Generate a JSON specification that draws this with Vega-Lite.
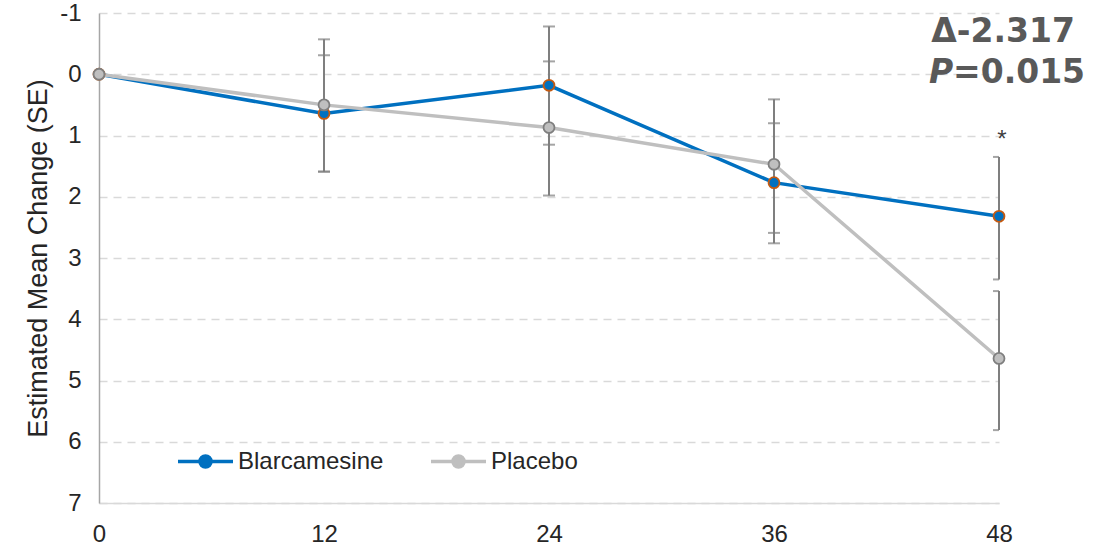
{
  "$schema": "https://vega.github.io/schema/vega-lite/v6.json",
  "autosize": {"type": "none"},
  "padding": {"left": 99, "top": 13, "right": 113, "bottom": 43},
  "width": 900,
  "height": 490,
  "background": "white",
  "config": {
    "view": {"stroke": null},
    "font": "Liberation Sans",
    "axis": {"labelFont": "Liberation Sans", "titleFont": "Liberation Sans", "labelColor": "#262626", "titleColor": "#262626", "ticks": false}
  },
  "data": {
    "values": [
      {"week": 0, "group": "Blarcamesine", "mean": 0, "lo": null, "hi": null},
      {"week": 12, "group": "Blarcamesine", "mean": 0.64, "lo": -0.31, "hi": 1.59},
      {"week": 24, "group": "Blarcamesine", "mean": 0.18, "lo": -0.78, "hi": 1.15},
      {"week": 36, "group": "Blarcamesine", "mean": 1.77, "lo": 0.80, "hi": 2.76},
      {"week": 48, "group": "Blarcamesine", "mean": 2.32, "lo": 1.35, "hi": 3.35},
      {"week": 0, "group": "Placebo", "mean": 0, "lo": null, "hi": null},
      {"week": 12, "group": "Placebo", "mean": 0.50, "lo": -0.57, "hi": 1.59},
      {"week": 24, "group": "Placebo", "mean": 0.87, "lo": -0.21, "hi": 1.98},
      {"week": 36, "group": "Placebo", "mean": 1.47, "lo": 0.41, "hi": 2.59},
      {"week": 48, "group": "Placebo", "mean": 4.64, "lo": 3.54, "hi": 5.81}
    ]
  },
  "encoding": {
    "x": {
      "field": "week", "type": "quantitative",
      "scale": {"domain": [0, 48], "nice": false, "zero": false},
      "axis": {"values": [0, 12, 24, 36, 48], "title": null, "grid": false, "labelFontSize": 24, "labelPadding": 19, "domainColor": "#D9D9D9", "domainWidth": 1.5, "labelFlush": false}
    },
    "y": {
      "field": "mean", "type": "quantitative",
      "scale": {"domain": [-1, 7], "reverse": true, "nice": false, "zero": false},
      "axis": {"values": [-1, 0, 1, 2, 3, 4, 5, 6, 7], "labelExpr": "replace(datum.label, '−', '-')", "title": "Estimated Mean Change (SE)", "titleFontSize": 27, "titleFontWeight": "normal", "titlePadding": 7, "labelFontSize": 24, "labelPadding": 18, "domainColor": "#A6A6A6", "domainWidth": 1.5, "grid": true, "gridColor": "#D9D9D9", "gridDash": [8, 6], "gridWidth": 1.5, "labelFlush": false}
    }
  },
  "layer": [
    {
      "mark": {"type": "rule", "color": "#7F7F7F", "strokeWidth": 2},
      "encoding": {"y": {"field": "lo", "type": "quantitative"}, "y2": {"field": "hi"}}
    },
    {
      "mark": {"type": "tick", "orient": "horizontal", "color": "#7F7F7F", "size": 12, "thickness": 2, "clip": true},
      "encoding": {"y": {"field": "lo", "type": "quantitative"}}
    },
    {
      "mark": {"type": "tick", "orient": "horizontal", "color": "#7F7F7F", "size": 12, "thickness": 2, "clip": true},
      "encoding": {"y": {"field": "hi", "type": "quantitative"}}
    },
    {
      "mark": {"type": "line", "strokeWidth": 3.5},
      "encoding": {
        "color": {
          "field": "group", "type": "nominal",
          "scale": {"domain": ["Blarcamesine", "Placebo"], "range": ["#0070C0", "#BFBFBF"]},
          "legend": {
            "title": null, "orient": "none", "legendX": 77, "legendY": 419, "direction": "horizontal",
            "symbolType": "M-1,0H-0.2M0.2,0H1M0.2,0A0.2,0.2,0,1,1,-0.2,0A0.2,0.2,0,1,1,0.2,0",
            "symbolSize": 3025, "symbolStrokeWidth": 3.5,
            "labelFontSize": 24, "labelFont": "Liberation Sans", "labelColor": "#262626", "labelOffset": 3,
            "columnPadding": 40, "padding": 0,
            "encode": {"symbols": {"update": {"fill": {"scale": "color", "field": "value"}, "stroke": {"scale": "color", "field": "value"}, "strokeWidth": {"value": 3.5}, "opacity": {"value": 1}}}}
          }
        }
      }
    },
    {
      "mark": {"type": "point", "filled": true, "size": 120, "strokeWidth": 1.8, "opacity": 1},
      "encoding": {
        "color": {"field": "group", "type": "nominal", "legend": null},
        "stroke": {"field": "group", "type": "nominal", "scale": {"domain": ["Blarcamesine", "Placebo"], "range": ["#C55A11", "#7F7F7F"]}, "legend": null}
      }
    },
    {
      "transform": [{"filter": "datum.week == 48 && datum.group == 'Placebo'"}],
      "mark": {"type": "text", "text": "Δ-2.317", "font": "DejaVu Sans", "fontWeight": "bold", "fontSize": 33, "color": "#595959", "align": "right", "baseline": "alphabetic"},
      "encoding": {"x": {"datum": 52.05}, "y": {"datum": -0.52}}
    },
    {
      "transform": [{"filter": "datum.week == 48 && datum.group == 'Placebo'"}],
      "mark": {"type": "text", "text": "P", "font": "DejaVu Sans", "fontWeight": "bold", "fontStyle": "italic", "fontSize": 33, "color": "#595959", "align": "right", "baseline": "alphabetic"},
      "encoding": {"x": {"datum": 45.55}, "y": {"datum": 0.15}}
    },
    {
      "transform": [{"filter": "datum.week == 48 && datum.group == 'Placebo'"}],
      "mark": {"type": "text", "text": "=0.015", "font": "DejaVu Sans", "fontWeight": "bold", "fontSize": 33, "color": "#595959", "align": "right", "baseline": "alphabetic"},
      "encoding": {"x": {"datum": 52.59}, "y": {"datum": 0.15}}
    },
    {
      "transform": [{"filter": "datum.week == 48 && datum.group == 'Blarcamesine'"}],
      "mark": {"type": "text", "text": "*", "fontSize": 24, "color": "#404040", "align": "center", "baseline": "alphabetic"},
      "encoding": {"x": {"datum": 48.16}, "y": {"datum": 1.18}}
    }
  ]
}
